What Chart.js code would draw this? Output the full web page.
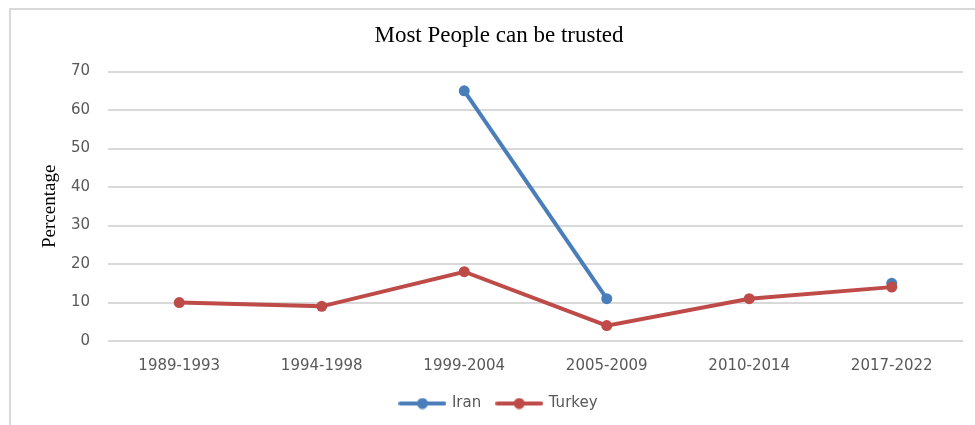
<!DOCTYPE html>
<html>
<head>
<meta charset="utf-8">
<script src="https://cdn.jsdelivr.net/npm/chart.js@4/dist/chart.umd.min.js"></script>
<style>
  html, body { margin: 0; padding: 0; background: #fff; }
  #wrap { width: 975px; height: 425px; position: relative; }
</style>
</head>
<body>
<div id="wrap"><canvas id="myChart"></canvas></div>
<script>
const periods = ["1989-1993", "1994-1998", "1999-2004", "2005-2009", "2010-2014", "2017-2022"];
const iranValues = [null, null, 65, 11, null, 15];
const turkeyValues = [10, 9, 18, 4, 11, 14];
const yTicks = [0, 10, 20, 30, 40, 50, 60, 70];

const IRAN = "#4a7ebb";
const TURKEY = "#be4b48";
const TICK_COLOR = "#595959";
const SANS = "DejaVu Sans";

function legendMark(color) {
  const c = document.createElement("canvas");
  c.width = 48;
  c.height = 12;
  const g = c.getContext("2d");
  g.strokeStyle = color;
  g.lineWidth = 4;
  g.lineCap = "round";
  g.beginPath();
  g.moveTo(2, 6);
  g.lineTo(46, 6);
  g.stroke();
  g.fillStyle = color;
  g.beginPath();
  g.arc(24, 6, 5.5, 0, Math.PI * 2);
  g.fill();
  return c;
}

// frame on the left and top, as in the original
const framePlugin = {
  id: "frame",
  beforeDraw(chart) {
    const ctx = chart.ctx;
    ctx.save();
    ctx.strokeStyle = "#d9d9d9";
    ctx.lineWidth = 2;
    ctx.beginPath();
    ctx.moveTo(10, 425);
    ctx.lineTo(10, 9);
    ctx.lineTo(975, 9);
    ctx.stroke();
    ctx.restore();
  },
};

const ctx = document.getElementById("myChart");

new Chart(ctx, {
  type: "line",
  data: {
    labels: periods,
    datasets: [
      {
        label: "Iran",
        data: iranValues,
        borderColor: IRAN,
        backgroundColor: IRAN,
        borderWidth: 4,
        pointRadius: 5.5,
        pointHoverRadius: 5.5,
        pointBackgroundColor: IRAN,
        pointBorderWidth: 0,
        spanGaps: false,
        order: 1,
      },
      {
        label: "Turkey",
        data: turkeyValues,
        borderColor: TURKEY,
        backgroundColor: TURKEY,
        borderWidth: 4,
        pointRadius: 5.5,
        pointHoverRadius: 5.5,
        pointBackgroundColor: TURKEY,
        pointBorderWidth: 0,
        order: 0,
      },
    ],
  },
  options: {
    responsive: true,
    maintainAspectRatio: false,
    animation: false,
    layout: { padding: { top: 0, right: 12, bottom: 4, left: 35 } },
    plugins: {
      title: {
        display: true,
        text: "Most People can be trusted",
        color: "#000",
        font: { family: "Liberation Serif", size: 23, weight: "normal" },
        padding: { top: 22, bottom: 22 },
      },
      legend: {
        position: "bottom",
        labels: {
          color: TICK_COLOR,
          font: { family: SANS, size: 15 },
          usePointStyle: true,
          pointStyleWidth: 44,
          padding: 16,
          sort: (a, b) => a.datasetIndex - b.datasetIndex,
          generateLabels(chart) {
            return chart.data.datasets.map((ds, i) => ({
              text: ds.label,
              fontColor: TICK_COLOR,
              pointStyle: legendMark(ds.borderColor),
              lineWidth: 0,
              strokeStyle: "transparent",
              fillStyle: ds.borderColor,
              datasetIndex: i,
              hidden: false,
            }));
          },
        },
      },
      tooltip: { enabled: false },
    },
    scales: {
      x: {
        offset: true,
        grid: { display: false },
        border: { display: false },
        ticks: {
          color: TICK_COLOR,
          font: { family: SANS, size: 15 },
          padding: 8,
          maxRotation: 0,
        },
        afterFit(scale) { scale.height = 39; },
      },
      y: {
        min: 0,
        max: 70,
        afterBuildTicks(scale) { scale.ticks = yTicks.map(v => ({ value: v })); },
        grid: { color: "#d9d9d9", lineWidth: 2, drawTicks: false },
        border: { display: false },
        ticks: {
          color: TICK_COLOR,
          font: { family: SANS, size: 15 },
          padding: 18,
        },
        title: {
          display: true,
          text: "Percentage",
          color: "#000",
          font: { family: "Liberation Serif", size: 19, weight: "normal" },
          padding: { top: 4, bottom: 0 },
        },
        afterFit(scale) { scale.width = 73; },
      },
    },
  },
  plugins: [framePlugin],
});
</script>
</body>
</html>
